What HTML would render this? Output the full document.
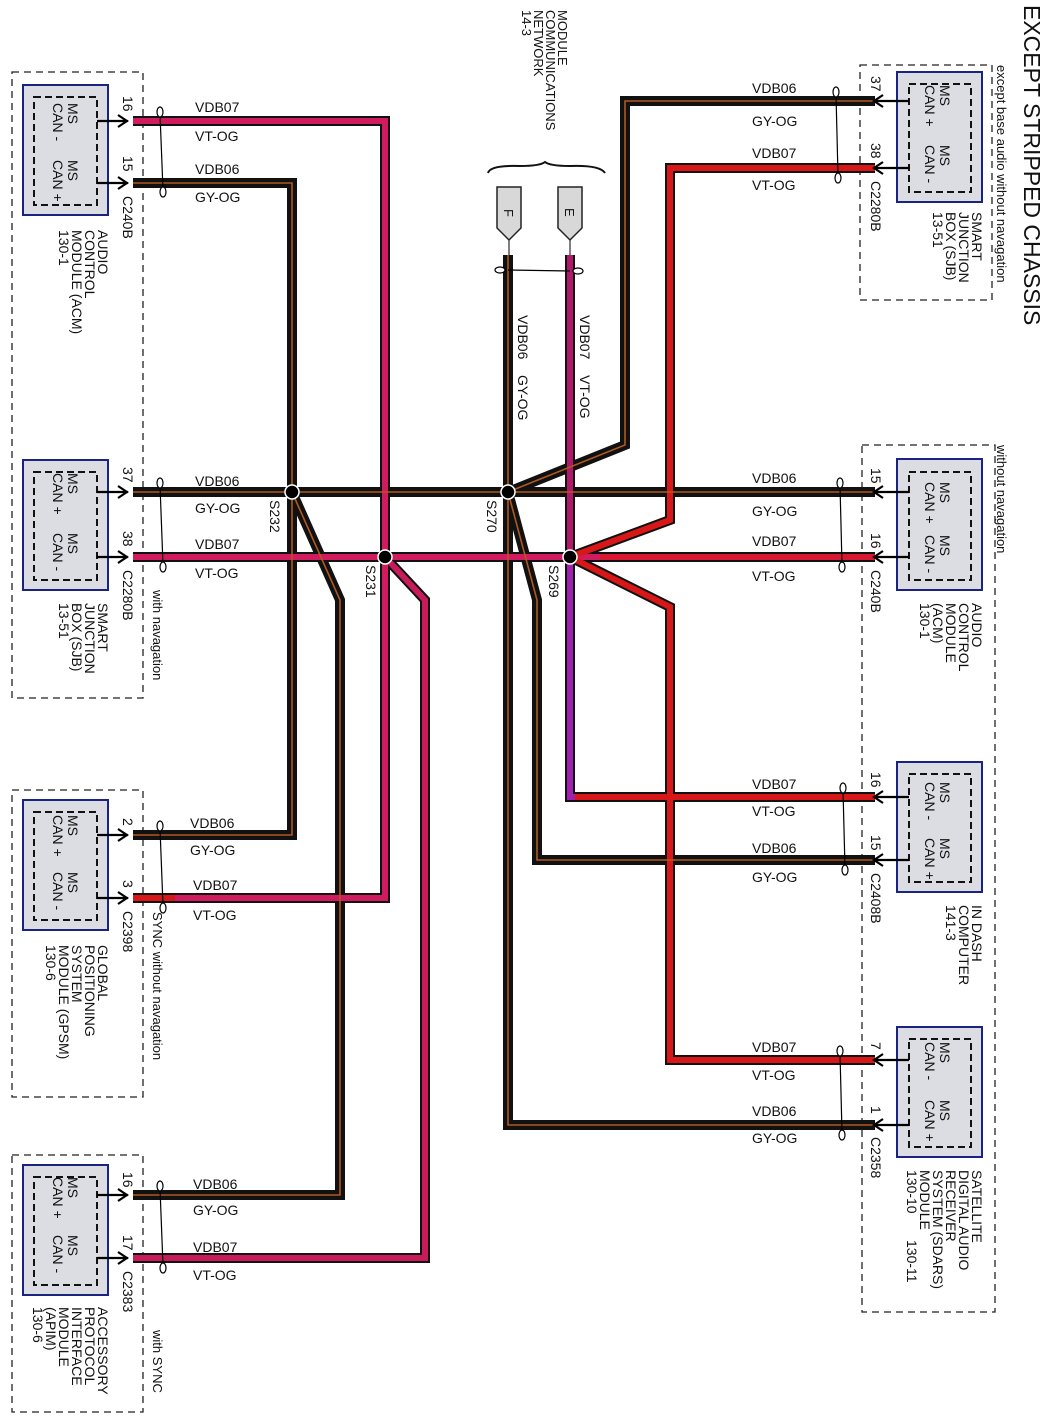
<!DOCTYPE html>
<html><head><meta charset="utf-8"><style>
html,body{margin:0;padding:0;background:#fff}
svg{display:block}
text{font-family:"Liberation Sans",Arial,sans-serif;fill:#111}
</style></head><body>
<svg width="1058" height="1422" viewBox="0 0 1058 1422" xmlns="http://www.w3.org/2000/svg">

<g fill="none" stroke="#222" stroke-width="1.3" stroke-dasharray="7,5">
<rect x="12" y="72" width="131" height="626"/>
<rect x="12" y="790" width="131" height="307"/>
<rect x="12" y="1155" width="131" height="257"/>
<rect x="860" y="65" width="132" height="235"/>
<rect x="862" y="445" width="133" height="867"/>
</g>

<g fill="none" stroke="#111" stroke-width="10" stroke-linejoin="miter">
<path d="M133,121 H385 V898 H133"/>
<path d="M133,183 H292 V835 H133"/>
<path d="M133,492 H875"/>
<path d="M133,557 H875"/>
<path d="M292,492 L340,600 V1195 H133"/>
<path d="M385,557 L425,600 V1258 H133"/>
<path d="M508,255 V1125 H875"/>
<path d="M570,255 V797 H875"/>
<path d="M508,492 L625,445 V101 H875"/>
<path d="M508,492 L537,600 V860 H875"/>
<path d="M570,557 L670,520 V168 H875"/>
<path d="M570,557 L670,607 V1060 H875"/>
</g>
<g fill="none" stroke-width="6">
<path d="M133,121 H385 V560" stroke="#d01c5e"/>
<path d="M385,560 V898 H133" stroke="#d01c5e"/>
<path d="M175,898 H133" stroke="#d81818"/>
<path d="M133,557 H875" stroke="#d01c5e"/>
<path d="M600,557 H875" stroke="#d81830"/>
<path d="M385,557 L425,600 V1258 H133" stroke="#c81c5a"/>
<path d="M570,255 V557" stroke="#b0186a"/>
<path d="M570,557 V797 H875" stroke="#a020b0"/>
<path d="M575,797 H875" stroke="#d81818"/>
<path d="M570,557 L670,520 V168 H875" stroke="#d81818"/>
<path d="M570,557 L670,607 V1060 H875" stroke="#d81818"/>
</g>
<g fill="none" stroke="#b0581e" stroke-width="1.6">
<path d="M133,183 H292 V835 H133"/>
<path d="M133,492 H875"/>
<path d="M292,492 L340,600 V1195 H133"/>
<path d="M508,255 V1125 H875"/>
<path d="M508,492 L625,445 V101 H875"/>
<path d="M508,492 L537,600 V860 H875"/>
</g>

<g fill="#000" stroke="#fff" stroke-width="1.5">
<circle cx="292" cy="492" r="7"/>
<circle cx="385" cy="557" r="7"/>
<circle cx="508" cy="492" r="7"/>
<circle cx="570" cy="557" r="7"/>
</g>

<g fill="#fff" stroke="#000" stroke-width="1.2">
<line x1="160" y1="114" x2="163" y2="190"/><ellipse cx="160" cy="112" rx="3" ry="5"/><ellipse cx="163" cy="192" rx="3" ry="5"/>
<line x1="160" y1="485" x2="163" y2="565"/><ellipse cx="160" cy="483" rx="3" ry="5"/><ellipse cx="163" cy="567" rx="3" ry="5"/>
<line x1="160" y1="828" x2="163" y2="906"/><ellipse cx="160" cy="826" rx="3" ry="5"/><ellipse cx="163" cy="908" rx="3" ry="5"/>
<line x1="160" y1="1188" x2="163" y2="1266"/><ellipse cx="160" cy="1186" rx="3" ry="5"/><ellipse cx="163" cy="1268" rx="3" ry="5"/>
<line x1="836" y1="94" x2="838" y2="176"/><ellipse cx="836" cy="92" rx="3" ry="5"/><ellipse cx="838" cy="178" rx="3" ry="5"/>
<line x1="840" y1="485" x2="842" y2="565"/><ellipse cx="840" cy="483" rx="3" ry="5"/><ellipse cx="842" cy="567" rx="3" ry="5"/>
<line x1="843" y1="790" x2="845" y2="868"/><ellipse cx="843" cy="788" rx="3" ry="5"/><ellipse cx="845" cy="870" rx="3" ry="5"/>
<line x1="840" y1="1053" x2="842" y2="1133"/><ellipse cx="840" cy="1051" rx="3" ry="5"/><ellipse cx="842" cy="1135" rx="3" ry="5"/>
<line x1="508" y1="270" x2="570" y2="271"/><ellipse cx="500" cy="270" rx="5" ry="3"/><ellipse cx="578" cy="271" rx="5" ry="3"/>
</g>

<g fill="#d8d8d8" stroke="#222" stroke-width="1.5">
<path d="M497,187 H521 V228 L509,240 L497,228 Z"/>
<path d="M558,187 H582 V228 L570,240 L558,228 Z"/>
</g>
<g stroke="#000" stroke-width="1"><line x1="509" y1="240" x2="509" y2="255"/><line x1="570" y1="240" x2="570" y2="255"/></g>
<path d="M488,173 Q490,165 520,166 Q540,166 545,162 Q550,166 570,166 Q600,165 605,173" fill="none" stroke="#111" stroke-width="2"/>
<text transform="translate(504,209) rotate(90)" font-size="13">F</text>
<text transform="translate(565,208) rotate(90)" font-size="13">E</text>

<g fill="#dcdde2" stroke="#1a237e" stroke-width="2">
<rect x="23" y="85" width="85" height="130"/>
<rect x="23" y="460" width="85" height="130"/>
<rect x="23" y="800" width="85" height="130"/>
<rect x="23" y="1165" width="85" height="130"/>
<rect x="897" y="72" width="85" height="130"/>
<rect x="897" y="459" width="85" height="131"/>
<rect x="897" y="762" width="85" height="130"/>
<rect x="897" y="1027" width="85" height="130"/>
</g>
<g fill="none" stroke="#111" stroke-width="2" stroke-dasharray="7,4">
<rect x="34" y="97" width="63" height="108"/>
<rect x="34" y="472" width="63" height="108"/>
<rect x="34" y="812" width="63" height="108"/>
<rect x="34" y="1177" width="63" height="108"/>
<rect x="909" y="84" width="62" height="108"/>
<rect x="909" y="472" width="62" height="108"/>
<rect x="909" y="774" width="62" height="108"/>
<rect x="909" y="1039" width="62" height="108"/>
</g>
<g fill="none" stroke="#000" stroke-width="2.2">
<path d="M97,121 H128 M118,115 L127,121 L118,127"/>
<path d="M97,183 H128 M118,177 L127,183 L118,189"/>
<path d="M97,492 H128 M118,486 L127,492 L118,498"/>
<path d="M97,557 H128 M118,551 L127,557 L118,563"/>
<path d="M97,835 H128 M118,829 L127,835 L118,841"/>
<path d="M97,898 H128 M118,892 L127,898 L118,904"/>
<path d="M97,1195 H128 M118,1189 L127,1195 L118,1201"/>
<path d="M97,1258 H128 M118,1252 L127,1258 L118,1264"/>
<path d="M909,101 H873 M883,95 L874,101 L883,107"/>
<path d="M909,168 H873 M883,162 L874,168 L883,174"/>
<path d="M909,492 H873 M883,486 L874,492 L883,498"/>
<path d="M909,557 H873 M883,551 L874,557 L883,563"/>
<path d="M909,797 H873 M883,791 L874,797 L883,803"/>
<path d="M909,860 H873 M883,854 L874,860 L883,866"/>
<path d="M909,1060 H873 M883,1054 L874,1060 L883,1066"/>
<path d="M909,1125 H873 M883,1119 L874,1125 L883,1131"/>
</g>

<g font-size="14">
<text transform="translate(68,103) rotate(90)"><tspan x="0">MS</tspan><tspan x="0" dy="15">CAN -</tspan></text>
<text transform="translate(68,160) rotate(90)"><tspan x="0">MS</tspan><tspan x="0" dy="15">CAN +</tspan></text>
<text transform="translate(68,473) rotate(90)"><tspan x="0">MS</tspan><tspan x="0" dy="15">CAN +</tspan></text>
<text transform="translate(68,533) rotate(90)"><tspan x="0">MS</tspan><tspan x="0" dy="15">CAN -</tspan></text>
<text transform="translate(68,815) rotate(90)"><tspan x="0">MS</tspan><tspan x="0" dy="15">CAN +</tspan></text>
<text transform="translate(68,872) rotate(90)"><tspan x="0">MS</tspan><tspan x="0" dy="15">CAN -</tspan></text>
<text transform="translate(68,1177) rotate(90)"><tspan x="0">MS</tspan><tspan x="0" dy="15">CAN +</tspan></text>
<text transform="translate(68,1235) rotate(90)"><tspan x="0">MS</tspan><tspan x="0" dy="15">CAN -</tspan></text>
<text transform="translate(940,85) rotate(90)"><tspan x="0">MS</tspan><tspan x="0" dy="15">CAN +</tspan></text>
<text transform="translate(940,145) rotate(90)"><tspan x="0">MS</tspan><tspan x="0" dy="15">CAN -</tspan></text>
<text transform="translate(940,482) rotate(90)"><tspan x="0">MS</tspan><tspan x="0" dy="15">CAN +</tspan></text>
<text transform="translate(940,535) rotate(90)"><tspan x="0">MS</tspan><tspan x="0" dy="15">CAN -</tspan></text>
<text transform="translate(940,782) rotate(90)"><tspan x="0">MS</tspan><tspan x="0" dy="15">CAN -</tspan></text>
<text transform="translate(940,838) rotate(90)"><tspan x="0">MS</tspan><tspan x="0" dy="15">CAN +</tspan></text>
<text transform="translate(940,1042) rotate(90)"><tspan x="0">MS</tspan><tspan x="0" dy="15">CAN -</tspan></text>
<text transform="translate(940,1100) rotate(90)"><tspan x="0">MS</tspan><tspan x="0" dy="15">CAN +</tspan></text>

<text transform="translate(123,96) rotate(90)">16</text>
<text transform="translate(123,156) rotate(90)">15</text>
<text transform="translate(123,467) rotate(90)">37</text>
<text transform="translate(123,531) rotate(90)">38</text>
<text transform="translate(123,818) rotate(90)">2</text>
<text transform="translate(123,880) rotate(90)">3</text>
<text transform="translate(123,1172) rotate(90)">16</text>
<text transform="translate(123,1235) rotate(90)">17</text>
<text transform="translate(871,76) rotate(90)">37</text>
<text transform="translate(871,143) rotate(90)">38</text>
<text transform="translate(871,468) rotate(90)">15</text>
<text transform="translate(871,533) rotate(90)">16</text>
<text transform="translate(871,772) rotate(90)">16</text>
<text transform="translate(871,835) rotate(90)">15</text>
<text transform="translate(871,1042) rotate(90)">7</text>
<text transform="translate(871,1106) rotate(90)">1</text>

<text transform="translate(123,196) rotate(90)">C240B</text>
<text transform="translate(123,570) rotate(90)">C2280B</text>
<text transform="translate(123,911) rotate(90)">C2398</text>
<text transform="translate(123,1271) rotate(90)">C2383</text>
<text transform="translate(871,181) rotate(90)">C2280B</text>
<text transform="translate(871,570) rotate(90)">C240B</text>
<text transform="translate(871,873) rotate(90)">C2408B</text>
<text transform="translate(871,1137) rotate(90)">C2358</text>

<text transform="translate(98,230) rotate(90)"><tspan x="0">AUDIO</tspan><tspan x="0" dy="13">CONTROL</tspan><tspan x="0" dy="13">MODULE (ACM)</tspan><tspan x="0" dy="13">130-1</tspan></text>
<text transform="translate(98,603) rotate(90)"><tspan x="0">SMART</tspan><tspan x="0" dy="13">JUNCTION</tspan><tspan x="0" dy="13">BOX (SJB)</tspan><tspan x="0" dy="13">13-51</tspan></text>
<text transform="translate(98,945) rotate(90)"><tspan x="0">GLOBAL</tspan><tspan x="0" dy="13">POSITIONING</tspan><tspan x="0" dy="13">SYSTEM</tspan><tspan x="0" dy="13">MODULE (GPSM)</tspan><tspan x="0" dy="13">130-6</tspan></text>
<text transform="translate(98,1307) rotate(90)"><tspan x="0">ACCESSORY</tspan><tspan x="0" dy="13">PROTOCOL</tspan><tspan x="0" dy="13">INTERFACE</tspan><tspan x="0" dy="13">MODULE</tspan><tspan x="0" dy="13">(APIM)</tspan><tspan x="0" dy="13">130-6</tspan></text>
<text transform="translate(972,212) rotate(90)"><tspan x="0">SMART</tspan><tspan x="0" dy="13">JUNCTION</tspan><tspan x="0" dy="13">BOX (SJB)</tspan><tspan x="0" dy="13">13-51</tspan></text>
<text transform="translate(972,603) rotate(90)"><tspan x="0">AUDIO</tspan><tspan x="0" dy="13">CONTROL</tspan><tspan x="0" dy="13">MODULE</tspan><tspan x="0" dy="13">(ACM)</tspan><tspan x="0" dy="13">130-1</tspan></text>
<text transform="translate(972,905) rotate(90)"><tspan x="0">IN DASH</tspan><tspan x="0" dy="13">COMPUTER</tspan><tspan x="0" dy="13">141-3</tspan></text>
<text transform="translate(972,1170) rotate(90)"><tspan x="0">SATELLITE</tspan><tspan x="0" dy="13">DIGITAL AUDIO</tspan><tspan x="0" dy="13">RECEIVER</tspan><tspan x="0" dy="13">SYSTEM (SDARS)</tspan><tspan x="0" dy="13">MODULE</tspan><tspan x="0" dy="13">130-10</tspan></text>
<text transform="translate(907,1240) rotate(90)">130-11</text>

<text transform="translate(153,590) rotate(90)" font-size="13">with navagation</text>
<text transform="translate(153,912) rotate(90)" font-size="13">SYNC without navagation</text>
<text transform="translate(153,1330) rotate(90)" font-size="13">with SYNC</text>
<text transform="translate(997,65) rotate(90)" font-size="13">except base audio without navagation</text>
<text transform="translate(997,445) rotate(90)" font-size="13">without navagation</text>
<text transform="translate(1024,5) rotate(90)" font-size="23">EXCEPT STRIPPED CHASSIS</text>
<text transform="translate(558,10) rotate(90)" font-size="13"><tspan x="0">MODULE</tspan><tspan x="0" dy="12">COMMUNICATIONS</tspan><tspan x="0" dy="12">NETWORK</tspan><tspan x="0" dy="12">14-3</tspan></text>

<text transform="translate(270,500) rotate(90)">S232</text>
<text transform="translate(366,565) rotate(90)">S231</text>
<text transform="translate(487,500) rotate(90)">S270</text>
<text transform="translate(549,565) rotate(90)">S269</text>

<text transform="translate(518,315) rotate(90)">VDB06</text>
<text transform="translate(518,375) rotate(90)">GY-OG</text>
<text transform="translate(580,315) rotate(90)">VDB07</text>
<text transform="translate(580,375) rotate(90)">VT-OG</text>

<text x="195" y="112">VDB07</text><text x="195" y="141">VT-OG</text>
<text x="195" y="174">VDB06</text><text x="195" y="202">GY-OG</text>
<text x="195" y="486">VDB06</text><text x="195" y="513">GY-OG</text>
<text x="195" y="549">VDB07</text><text x="195" y="578">VT-OG</text>
<text x="190" y="828">VDB06</text><text x="190" y="855">GY-OG</text>
<text x="193" y="890">VDB07</text><text x="193" y="920">VT-OG</text>
<text x="193" y="1189">VDB06</text><text x="193" y="1215">GY-OG</text>
<text x="193" y="1252">VDB07</text><text x="193" y="1280">VT-OG</text>
<text x="752" y="93">VDB06</text><text x="752" y="126">GY-OG</text>
<text x="752" y="158">VDB07</text><text x="752" y="190">VT-OG</text>
<text x="752" y="483">VDB06</text><text x="752" y="516">GY-OG</text>
<text x="752" y="546">VDB07</text><text x="752" y="581">VT-OG</text>
<text x="752" y="789">VDB07</text><text x="752" y="816">VT-OG</text>
<text x="752" y="853">VDB06</text><text x="752" y="882">GY-OG</text>
<text x="752" y="1052">VDB07</text><text x="752" y="1080">VT-OG</text>
<text x="752" y="1116">VDB06</text><text x="752" y="1143">GY-OG</text>
</g>
</svg>
</body></html>
